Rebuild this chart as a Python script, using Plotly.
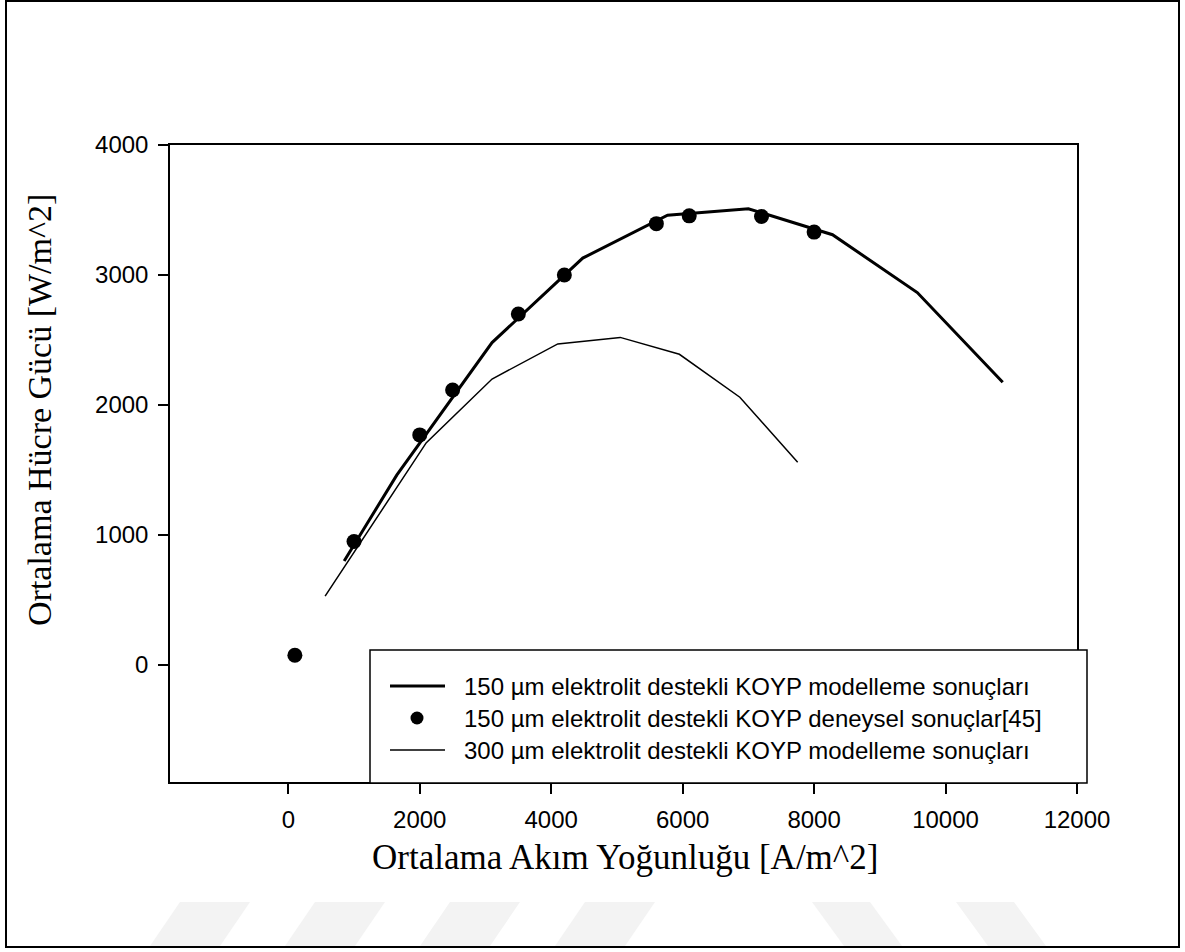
import plotly.graph_objects as go

# Cell power vs. current density
model150_x = [850, 1650, 3100, 4480, 5770, 7000, 8280, 9570, 10870]
model150_y = [800, 1460, 2480, 3130, 3460, 3510, 3310, 2865, 2175]

exp150_x = [100, 1000, 2000, 2500, 3500, 4200, 5600, 6100, 7200, 8000]
exp150_y = [75, 950, 1770, 2115, 2700, 3000, 3395, 3455, 3450, 3330]

model300_x = [560, 2100, 3100, 4100, 5050, 5950, 6870, 7750]
model300_y = [530, 1710, 2200, 2470, 2520, 2390, 2060, 1560]

x_ticks = [0, 2000, 4000, 6000, 8000, 10000, 12000]
x_ticktext = ["0", "2000", "4000", "6000", "8000", "10000", "12000"]
y_ticks = [0, 1000, 2000, 3000, 4000]
y_ticktext = ["0", "1000", "2000", "3000", "4000"]

legend_labels = [
    "150 µm elektrolit destekli KOYP modelleme sonuçları",
    "150 µm elektrolit destekli KOYP deneysel sonuçlar[45]",
    "300 µm elektrolit destekli KOYP modelleme sonuçları",
]
x_title = "Ortalama Akım Yoğunluğu [A/m^2]"
y_title = "Ortalama Hücre Gücü [W/m^2]"

SANS = "Liberation Sans, Arial, sans-serif"
SERIF = "Liberation Serif, Times New Roman, serif"

# plot area in pixels
L, R, T, B = 170, 1077, 145, 782
W, H = R - L, B - T


def px(x):
    return (x - L) / W


def py(y):
    return (B - y) / H


fig = go.Figure()
fig.add_trace(go.Scatter(x=model150_x, y=model150_y, mode="lines",
                         line=dict(color="black", width=3),
                         name=legend_labels[0], showlegend=False))
fig.add_trace(go.Scatter(x=model300_x, y=model300_y, mode="lines",
                         line=dict(color="black", width=1.5),
                         name=legend_labels[2], showlegend=False))
fig.add_trace(go.Scatter(x=exp150_x, y=exp150_y, mode="markers",
                         marker=dict(color="black", size=15),
                         name=legend_labels[1], showlegend=False))

shapes = []
# faint diagonal stripes along the bottom edge
for x0 in [150, 285, 420, 555]:
    shapes.append(dict(type="path", xref="paper", yref="paper", layer="below",
                       path=f"M{px(x0)},{py(946)} L{px(x0+70)},{py(946)} "
                            f"L{px(x0+100)},{py(902)} L{px(x0+30)},{py(902)} Z",
                       fillcolor="#f3f3f3", line=dict(width=0)))
for x0 in [812, 956]:
    shapes.append(dict(type="path", xref="paper", yref="paper", layer="below",
                       path=f"M{px(x0)},{py(902)} L{px(x0+58)},{py(902)} "
                            f"L{px(x0+90)},{py(946)} L{px(x0+32)},{py(946)} Z",
                       fillcolor="#f3f3f3", line=dict(width=0)))
# outer frame
shapes.append(dict(type="rect", xref="paper", yref="paper",
                   x0=px(6), x1=px(1179), y0=py(947), y1=py(1),
                   line=dict(color="black", width=2), layer="below"))
# legend box
shapes.append(dict(type="rect", xref="paper", yref="paper",
                   x0=px(370), x1=px(1087), y0=py(783), y1=py(650),
                   fillcolor="white", line=dict(color="black", width=1.5),
                   layer="above"))
rows = [686, 718, 750]
shapes.append(dict(type="line", xref="paper", yref="paper",
                   x0=px(390), x1=px(445), y0=py(rows[0]), y1=py(rows[0]),
                   line=dict(color="black", width=3), layer="above"))
r = 6.5
shapes.append(dict(type="circle", xref="paper", yref="paper",
                   x0=px(417 - r), x1=px(417 + r),
                   y0=py(rows[1] + r), y1=py(rows[1] - r),
                   fillcolor="black", line=dict(color="black", width=0),
                   layer="above"))
shapes.append(dict(type="line", xref="paper", yref="paper",
                   x0=px(390), x1=px(445), y0=py(rows[2]), y1=py(rows[2]),
                   line=dict(color="black", width=1.5), layer="above"))

annotations = []
for label, ry in zip(legend_labels, rows):
    annotations.append(dict(text=label, xref="paper", yref="paper",
                            x=px(462), y=py(ry), xanchor="left", yanchor="middle",
                            showarrow=False,
                            font=dict(family=SANS, size=24, color="black")))
annotations.append(dict(text=x_title, xref="paper", yref="paper",
                        x=px(625), y=py(857), xanchor="center", yanchor="middle",
                        showarrow=False,
                        font=dict(family=SERIF, size=35, color="black")))
annotations.append(dict(text=y_title, xref="paper", yref="paper",
                        x=px(40), y=py(410), xanchor="center", yanchor="middle",
                        textangle=-90, showarrow=False,
                        font=dict(family=SERIF, size=34, color="black")))

axis_common = dict(showgrid=False, zeroline=False, showline=True,
                   linecolor="black", linewidth=1.5, mirror=True,
                   ticks="outside", ticklen=10, tickwidth=1.5, tickcolor="black",
                   tickfont=dict(family=SANS, size=24, color="black"))

fig.update_layout(
    width=1185, height=952,
    margin=dict(l=L, r=1185 - R, t=T, b=952 - B),
    paper_bgcolor="white", plot_bgcolor="white",
    showlegend=False,
    xaxis=dict(range=[-1800, 12000], tickvals=x_ticks, ticktext=x_ticktext,
               ticklabelstandoff=5, **axis_common),
    yaxis=dict(range=[-900, 4000], tickvals=y_ticks, ticktext=y_ticktext,
               ticklabelstandoff=5, **axis_common),
    shapes=shapes,
    annotations=annotations,
)

fig.write_html("out.html")
